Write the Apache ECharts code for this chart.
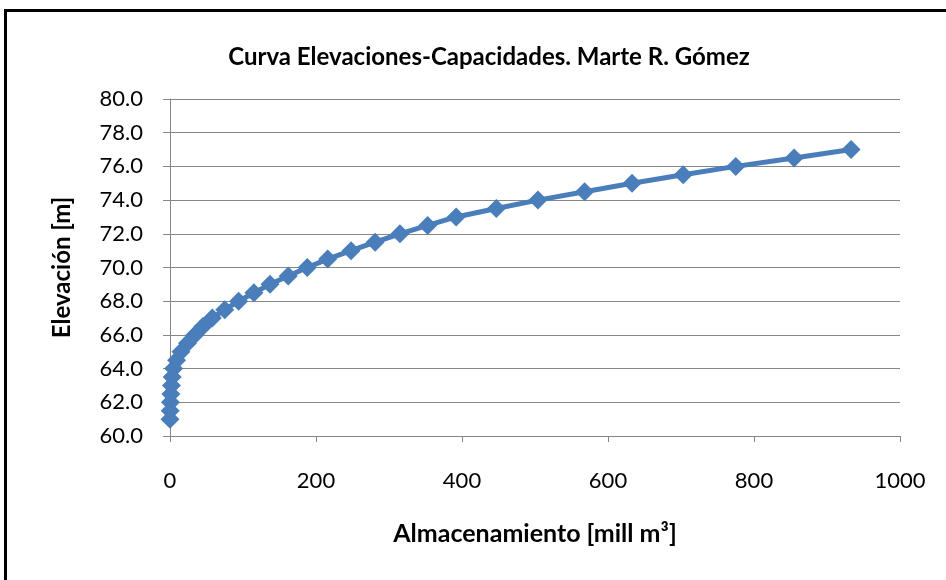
<!DOCTYPE html>
<html>
<head>
<meta charset="utf-8">
<script src="https://cdn.jsdelivr.net/npm/echarts@6/dist/echarts.min.js"></script>
<style>
  html, body { margin: 0; padding: 0; background: #ffffff; }
  #chart { width: 946px; height: 580px; }
</style>
</head>
<body>
<div id="chart"></div>
<script>
// Elevation–capacity curve for the Marte R. Gómez reservoir
const elevations = [61, 61.5, 62, 62.5, 63, 63.5, 64, 64.5, 65, 65.5, 66, 66.5, 67, 67.5, 68, 68.5, 69,
                    69.5, 70, 70.5, 71, 71.5, 72, 72.5, 73, 73.5, 74, 74.5, 75, 75.5, 76, 76.5, 77];
const storage = [0, 0.3, 0.6, 1.2, 2, 3, 5, 9, 15, 24, 34, 45, 58, 75, 94, 115, 137,
                 162, 188, 216, 248, 281, 315, 353, 392, 447, 504, 568, 633, 703, 775, 855, 933];
const xTicks = [0, 200, 400, 600, 800, 1000];
const yTicks = [60, 62, 64, 66, 68, 70, 72, 74, 76, 78, 80];

const points = storage.map((s, i) => [s, elevations[i]]);
const font = 'Lato, "Open Sans", sans-serif';
const gridGray = '#868686';

const chart = echarts.init(document.getElementById('chart'), null, { renderer: 'canvas' });
chart.setOption({
  animation: false,
  backgroundColor: '#ffffff',
  title: {
    text: 'Curva Elevaciones-Capacidades. Marte R. Gómez',
    left: 484,
    top: 40,
    textAlign: 'center',
    textStyle: { fontFamily: font, fontWeight: 'bold', fontSize: 24, color: '#000' }
  },
  graphic: [{
    type: 'rect',
    shape: { x: 5.5, y: 10.5, width: 1200, height: 1200 },
    style: { fill: 'none', stroke: '#000', lineWidth: 3 },
    silent: true
  }],
  grid: { left: 170, right: 46, top: 99, bottom: 144, containLabel: false },
  xAxis: {
    type: 'value',
    min: xTicks[0],
    max: xTicks[xTicks.length - 1],
    interval: 200,
    name: 'Almacenamiento [mill m³]',
    nameLocation: 'middle',
    nameGap: 85,
    nameTextStyle: { fontFamily: font, fontWeight: 'bold', fontSize: 25, color: '#000' },
    axisLine: { show: true, onZero: false, lineStyle: { color: gridGray, width: 1 } },
    axisTick: { show: true, inside: false, length: 6, lineStyle: { color: gridGray } },
    axisLabel: {
      margin: 34,
      fontFamily: font,
      fontSize: 22,
      color: '#000',
      formatter: v => String(v)
    },
    splitLine: { show: false }
  },
  yAxis: {
    type: 'value',
    min: yTicks[0],
    max: yTicks[yTicks.length - 1],
    interval: 2,
    name: 'Elevación [m]',
    nameLocation: 'middle',
    nameGap: 96,
    nameRotate: 90,
    nameTextStyle: { fontFamily: font, fontWeight: 'bold', fontSize: 24, color: '#000' },
    axisLine: { show: true, onZero: false, lineStyle: { color: gridGray, width: 1 } },
    axisTick: { show: true, inside: false, length: 7, lineStyle: { color: gridGray } },
    axisLabel: {
      margin: 27,
      fontFamily: font,
      fontSize: 22,
      color: '#000',
      formatter: v => v.toFixed(1)
    },
    splitLine: { show: true, lineStyle: { color: gridGray, width: 1 } }
  },
  series: [{
    type: 'line',
    data: points,
    symbol: 'diamond',
    symbolSize: 19,
    showAllSymbol: true,
    lineStyle: { color: '#4a7ebb', width: 5 },
    itemStyle: { color: '#4a7ebb' }
  }]
});
</script>
</body>
</html>
